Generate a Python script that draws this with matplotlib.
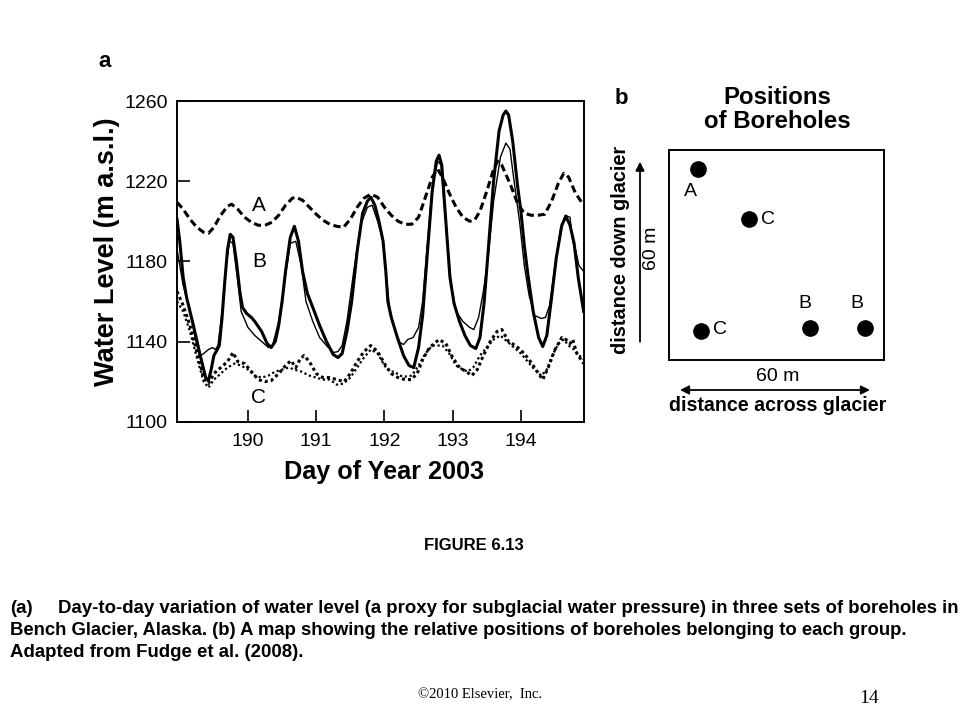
import matplotlib
matplotlib.use("Agg")
import matplotlib.pyplot as plt

plt.rcParams['font.family'] = ['Liberation Sans', 'DejaVu Sans']

W, H = 960, 720

# ---------------- data ----------------
a_day = [188.96, 189.05, 189.15, 189.25, 189.35, 189.42, 189.5, 189.6, 189.7, 189.76, 189.85, 189.95,
         190.05, 190.15, 190.25, 190.35, 190.45, 190.55, 190.65, 190.7, 190.8, 190.9, 191.0, 191.1,
         191.2, 191.3, 191.4, 191.5, 191.6, 191.7, 191.8, 191.9, 192.0, 192.1, 192.2, 192.3, 192.4,
         192.5, 192.6, 192.7, 192.78, 192.85, 192.95, 193.05, 193.15, 193.25, 193.32, 193.4, 193.5,
         193.6, 193.66, 193.72, 193.85, 193.95, 194.05, 194.15, 194.25, 194.35, 194.45, 194.55,
         194.63, 194.7, 194.8, 194.92]
a_level = [1209.5, 1206, 1201, 1197, 1194.5, 1194, 1197, 1203, 1207.5, 1208.5, 1206, 1202,
           1199.5, 1198, 1198, 1199.5, 1203, 1208, 1211.5, 1212, 1210.5, 1207, 1203.5, 1200.5,
           1198.5, 1197.5, 1197, 1201, 1207, 1211.5, 1213.5, 1212, 1207, 1203, 1200, 1198.5, 1198.5,
           1202, 1212, 1222, 1226, 1222, 1214, 1207, 1202, 1200, 1200.5, 1205, 1215,
           1226, 1230, 1228, 1218, 1209, 1204, 1203, 1203, 1203.5, 1210, 1219,
           1224, 1222, 1214, 1208]

b1_day = [188.96, 189.0, 189.05, 189.1, 189.2, 189.3, 189.38, 189.42, 189.46, 189.5, 189.55, 189.58,
          189.62, 189.66, 189.7, 189.74, 189.78, 189.83, 189.88, 189.92, 189.98, 190.05, 190.1, 190.2,
          190.28, 190.34, 190.4, 190.45, 190.5, 190.55, 190.62, 190.68, 190.74, 190.8, 190.87, 190.95,
          191.05, 191.15, 191.25, 191.32, 191.38, 191.45, 191.52, 191.6, 191.68, 191.75, 191.8, 191.86,
          191.92, 191.98, 192.02, 192.05, 192.1, 192.19, 192.28, 192.36, 192.43, 192.5, 192.56, 192.62,
          192.7, 192.76, 192.8, 192.84, 192.9, 192.96, 193.02, 193.1, 193.18, 193.26, 193.34, 193.4,
          193.46, 193.52, 193.6, 193.68, 193.74, 193.78, 193.82, 193.88, 193.95, 194.0, 194.05, 194.1,
          194.18, 194.26, 194.32, 194.38, 194.45, 194.52, 194.6, 194.66, 194.72, 194.78, 194.84, 194.92]
b1_level = [1201, 1190, 1172, 1162, 1148, 1133, 1122, 1120.5, 1126, 1133, 1136, 1138,
            1152, 1170, 1186, 1193.5, 1192, 1180, 1165, 1157, 1154, 1152, 1150, 1145,
            1139, 1137, 1140, 1148, 1160, 1175, 1192, 1197.5, 1190, 1175, 1164, 1157,
            1148, 1140, 1133.5, 1132, 1134, 1145, 1160, 1185, 1204, 1210, 1212, 1208,
            1200, 1190, 1175, 1160, 1152, 1142, 1133, 1128, 1127, 1137, 1153, 1180,
            1215, 1230, 1233, 1228, 1200, 1172, 1159, 1150, 1143, 1138, 1136.5, 1142,
            1159, 1185, 1220, 1245, 1253, 1255, 1253, 1240, 1218, 1205, 1188, 1174,
            1155, 1142, 1137.5, 1143, 1162, 1182, 1198, 1202.5, 1198, 1189, 1172, 1155]

b2_day = [188.96, 189.05, 189.15, 189.22, 189.29, 189.35, 189.42, 189.48, 189.52, 189.56, 189.62, 189.68,
          189.73, 189.78, 189.85, 189.9, 190.0, 190.1, 190.2, 190.3, 190.36, 190.45, 190.55, 190.62,
          190.7, 190.78, 190.85, 190.95, 191.05, 191.15, 191.25, 191.32, 191.38, 191.45, 191.55, 191.65,
          191.75, 191.82, 191.9, 191.98, 192.03, 192.07, 192.12, 192.2, 192.28, 192.34, 192.42, 192.5,
          192.56, 192.62, 192.7, 192.78, 192.83, 192.9, 192.98, 193.05, 193.15, 193.25, 193.31, 193.38,
          193.45, 193.52, 193.6, 193.7, 193.78, 193.84, 193.9, 193.98, 194.05, 194.12, 194.2, 194.3,
          194.36, 194.42, 194.5, 194.58, 194.65, 194.72, 194.76, 194.8, 194.85, 194.92]
b2_level = [1186, 1168, 1155, 1143, 1132.5, 1134, 1136, 1137, 1136, 1138, 1155, 1178,
            1190, 1189, 1170, 1155, 1147, 1143, 1140, 1137, 1138, 1150, 1173, 1189,
            1190, 1178, 1160, 1150, 1142, 1138, 1134.5, 1135, 1138, 1150, 1175, 1198,
            1207, 1208, 1200, 1190, 1172, 1158, 1150, 1140, 1138.5, 1141, 1142, 1147,
            1160, 1185, 1217, 1230, 1228, 1198, 1168, 1155, 1150, 1147, 1146, 1152,
            1165, 1182, 1210, 1232, 1239, 1236, 1220, 1200, 1178, 1163, 1153, 1151.5,
            1152, 1158, 1178, 1196, 1203, 1202, 1190, 1186, 1178, 1175]

c1_day = [188.96, 189.05, 189.15, 189.25, 189.35, 189.42, 189.5, 189.6, 189.7, 189.78, 189.85, 189.95,
          190.05, 190.15, 190.25, 190.34, 190.45, 190.55, 190.63, 190.7, 190.76, 190.82, 190.9, 191.0,
          191.1, 191.2, 191.3, 191.41, 191.5, 191.6, 191.7, 191.8, 191.9, 192.0, 192.1, 192.2,
          192.3, 192.39, 192.48, 192.56, 192.66, 192.8, 192.9, 193.0, 193.1, 193.2, 193.28, 193.36,
          193.45, 193.55, 193.65, 193.72, 193.82, 193.92, 194.02, 194.12, 194.22, 194.32, 194.4, 194.5,
          194.6, 194.66, 194.72, 194.76, 194.82, 194.92]
c1_level = [1165, 1158, 1148, 1135, 1122, 1119, 1124, 1127, 1130, 1134.5, 1130, 1129,
            1125, 1121, 1120, 1120.5, 1124, 1128, 1130.5, 1127, 1131, 1133, 1130, 1124,
            1122, 1122, 1121, 1120, 1124, 1130, 1135, 1138, 1135, 1129, 1124, 1122,
            1121, 1121, 1124, 1131, 1137, 1141, 1139, 1132, 1127, 1125, 1123, 1126,
            1133, 1140, 1145, 1146, 1140, 1138, 1135, 1131, 1126, 1121, 1127, 1136,
            1142, 1141, 1139, 1141, 1134, 1129]

c2_day = [188.96, 189.05, 189.15, 189.25, 189.35, 189.42, 189.5, 189.6, 189.7, 189.8, 189.9, 190.0,
          190.1, 190.2, 190.3, 190.4, 190.5, 190.6, 190.68, 190.78, 190.9, 191.0, 191.1, 191.2,
          191.3, 191.4, 191.5, 191.6, 191.7, 191.8, 191.9, 192.0, 192.08, 192.15, 192.22, 192.3,
          192.4, 192.5, 192.6, 192.7, 192.85, 192.95, 193.05, 193.15, 193.22, 193.3, 193.4, 193.5,
          193.6, 193.7, 193.8, 193.9, 194.0, 194.1, 194.2, 194.3, 194.38, 194.46, 194.55, 194.63,
          194.7, 194.78, 194.86, 194.92]
c2_level = [1160, 1155, 1145, 1132, 1120, 1117, 1121, 1124, 1127, 1129, 1128, 1126,
            1123, 1122, 1123, 1125, 1126, 1127, 1126, 1125, 1123, 1122, 1121, 1121,
            1118.5, 1119, 1122, 1127, 1132, 1136, 1134, 1128, 1125, 1125, 1123, 1122.5,
            1123, 1128, 1134, 1138, 1138, 1134, 1128, 1126, 1125, 1127, 1133, 1137,
            1141, 1143, 1140, 1137, 1134, 1130, 1126, 1123, 1126, 1133, 1139, 1141,
            1138, 1136, 1133, 1131]

x_ticks = [190, 191, 192, 193, 194]
y_ticks = [1100, 1140, 1180, 1220, 1260]
series_labels = ['A', 'B', 'C']
series_label_pos = [(190.16, 1208), (190.16, 1180), (190.16, 1112)]

# borehole map (metres, 60 m x 60 m box)
hole_labels = ['A', 'C', 'C', 'B', 'B']
hole_x = [8.0, 22.3, 8.9, 39.3, 54.7]
hole_y = [54.5, 40.3, 8.3, 9.2, 9.2]

# ---------------- figure ----------------
fig = plt.figure(figsize=(W / 100, H / 100), dpi=100)
fig.patch.set_facecolor('white')


def fx(px):
    return px / W


def fy(py):
    return 1 - py / H


# ----- panel a -----
ax = fig.add_axes([fx(176.7), fy(421.7), (584 - 176.7) / W, (421.7 - 101) / H])
ax.plot(a_day, a_level, color='black', lw=2.2, ls=(0, (2.4, 1.3)), solid_capstyle='butt')
ax.plot(b2_day, b2_level, color='black', lw=1.0)
ax.plot(b1_day, b1_level, color='black', lw=2.2)
ax.plot(c2_day, c2_level, color='black', lw=1.6, ls=(0, (1, 1.2)))
ax.plot(c1_day, c1_level, color='black', lw=2.2, ls=(0, (1, 1.0)))

for lab, (xd, yd) in zip(series_labels, series_label_pos):
    ax.text(xd, yd, lab, fontsize=15, ha='center', va='center')

ax.set_xlim(188.955, 194.925)
ax.set_ylim(1100, 1260)
ax.set_xticks(x_ticks)
ax.set_yticks(y_ticks)
ax.set_xticklabels([str(t) for t in x_ticks])
ax.set_yticklabels([str(t) for t in y_ticks])
ax.tick_params(direction='in', length=9, width=1.2, labelsize=14, pad=8.4)
ax.tick_params(axis='y', pad=6.5)
for sp in ax.spines.values():
    sp.set_linewidth(1.4)

fig.text(fx(107.5), fy(251.7), 'Water Level (m a.s.l.)', rotation=90, fontsize=19.5,
         fontweight='bold', ha='center', va='center')
fig.text(fx(384), fy(479), 'Day of Year 2003', fontsize=18.2, fontweight='bold',
         ha='center', va='baseline')
fig.text(fx(105), fy(67), 'a', fontsize=16, fontweight='bold', ha='center', va='baseline')

# ----- panel b -----
bx = fig.add_axes([fx(669), fy(360), 215 / W, 210 / H])
bx.set_xlim(0, 60)
bx.set_ylim(0, 60)
bx.set_xticks([])
bx.set_yticks([])
for sp in bx.spines.values():
    sp.set_linewidth(1.4)
bx.plot(hole_x, hole_y, 'o', color='black', ms=11)
label_offsets = [(-2.1, -6.4, 'center'), (3.3, -0.3, 'left'), (3.3, 0.3, 'left'),
                 (-1.3, 7.0, 'center'), (-2.3, 7.0, 'center')]
for lab, x0, y0, (dx, dy, ha) in zip(hole_labels, hole_x, hole_y, label_offsets):
    bx.text(x0 + dx, y0 + dy, lab, fontsize=14, ha=ha, va='center')

fig.text(fx(621), fy(104), 'b', fontsize=16, fontweight='bold', ha='center', va='baseline')
fig.text(fx(777.6), fy(104), 'Positions', fontsize=17.3, fontweight='bold',
         ha='center', va='baseline')
fig.text(fx(777.6), fy(128), 'of Boreholes', fontsize=17.3, fontweight='bold',
         ha='center', va='baseline')

fig.text(fx(621), fy(250), 'distance down glacier', rotation=90, fontsize=14.3,
         fontweight='bold', ha='center', va='center')
fig.text(fx(652), fy(248), '60 m', rotation=90, fontsize=14, ha='center', va='center')
fig.text(fx(778), fy(376.5), '60 m', fontsize=14, ha='center', va='center')
fig.text(fx(778), fy(411), 'distance across glacier', fontsize=14.1, fontweight='bold',
         ha='center', va='baseline')

fig.add_artist(matplotlib.patches.FancyArrowPatch(
    (fx(640), fy(341.7)), (fx(640), fy(161.7)), transform=fig.transFigure,
    arrowstyle='-|>', mutation_scale=13, lw=1.3, color='black', shrinkA=0, shrinkB=0))
fig.add_artist(matplotlib.patches.FancyArrowPatch(
    (fx(680), fy(390)), (fx(870), fy(390)), transform=fig.transFigure,
    arrowstyle='<|-|>', mutation_scale=13, lw=1.3, color='black', shrinkA=0, shrinkB=0))

# ----- caption -----
fig.text(fx(474), fy(550), 'FIGURE 6.13', fontsize=12, fontweight='bold',
         ha='center', va='baseline')

cap_lines = [
    'Day-to-day variation of water level (a proxy for subglacial water pressure) in three sets of boreholes in',
    'Bench Glacier, Alaska. (b) A map showing the relative positions of boreholes belonging to each group.',
    'Adapted from Fudge et al. (2008).',
]
cap_left = [58, 10, 10]
cap_right = [958, 910, 303]
cap_base = [613, 635, 657]

renderer = fig.canvas.get_renderer()
fig.text(fx(10), fy(cap_base[0]), '(a)', fontsize=13.5, fontweight='bold', ha='left',
         va='baseline')
for line, l, r, b in zip(cap_lines, cap_left, cap_right, cap_base):
    t = fig.text(fx(l), fy(b), line, fontsize=13.5, fontweight='bold', ha='left', va='baseline')
    wpx = t.get_window_extent(renderer).width
    t.set_fontsize(13.5 * (r - l) / wpx)

fig.text(fx(480), fy(698), '\u00a92010 Elsevier,  Inc.', fontsize=10.5,
         family='Liberation Serif', ha='center', va='baseline')
fig.text(fx(869), fy(703), '14', fontsize=14, family='Liberation Serif', ha='center',
         va='baseline')

fig.savefig('out.png', dpi=100, facecolor='white')
